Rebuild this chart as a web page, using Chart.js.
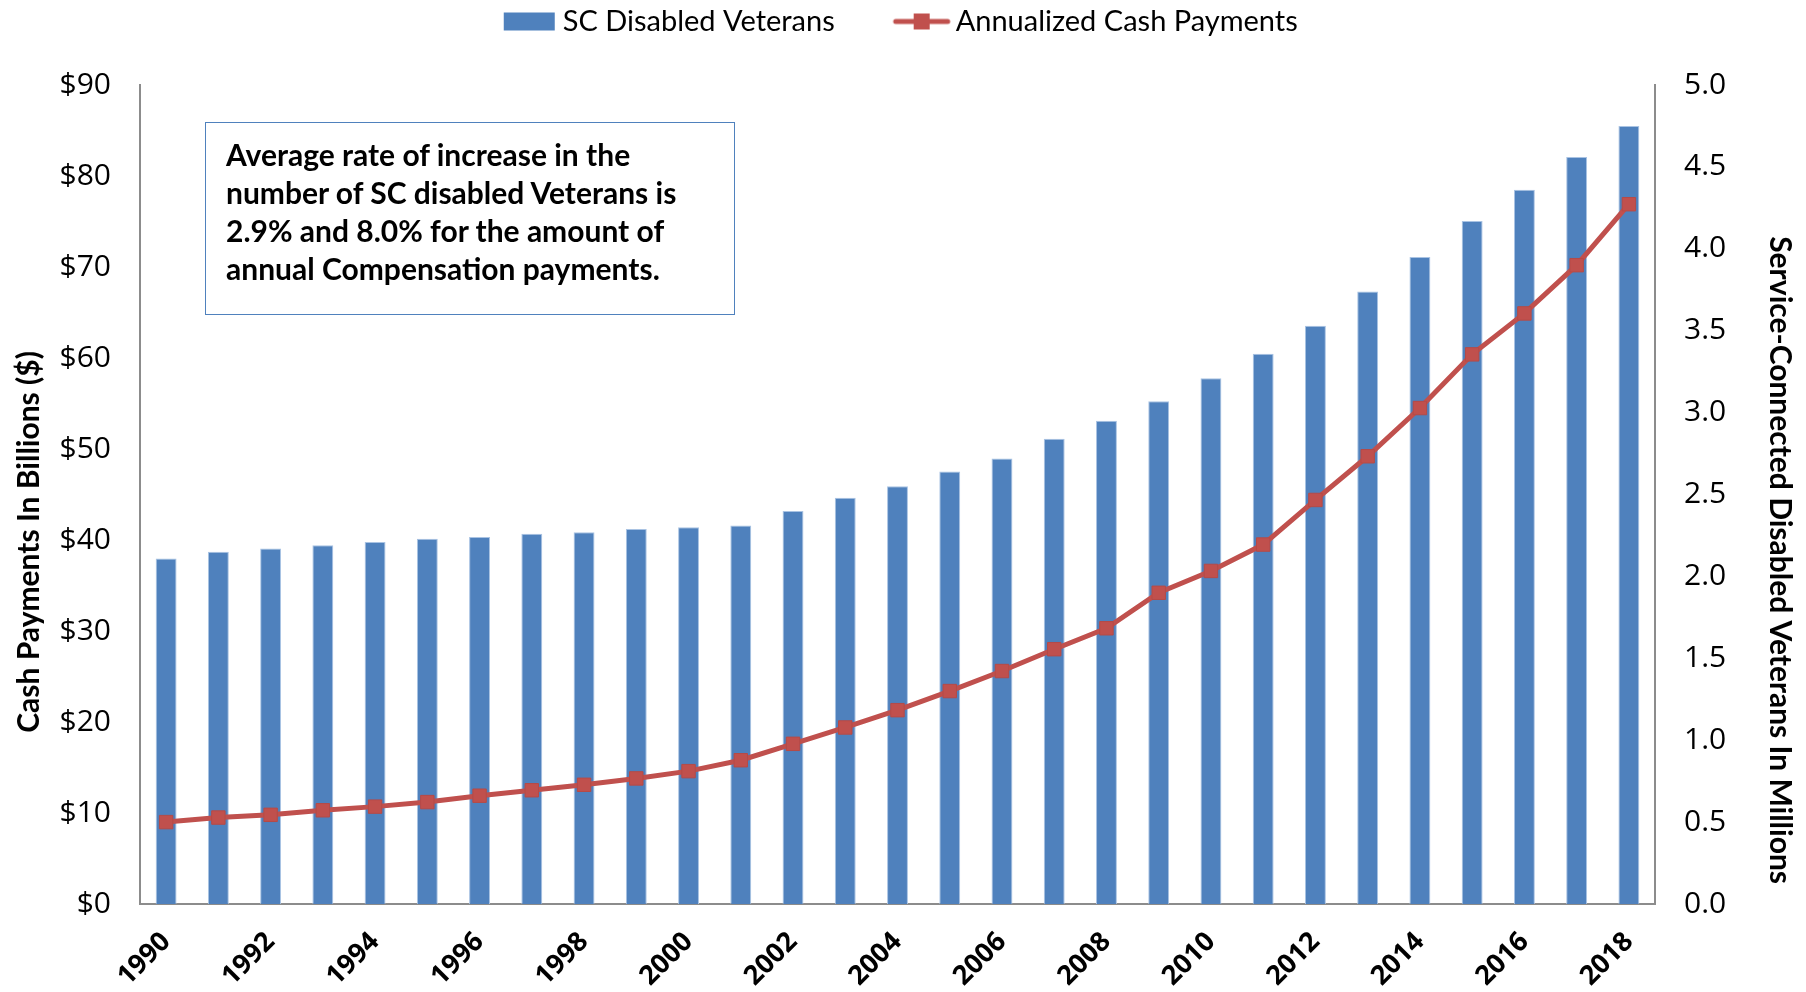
<!DOCTYPE html>
<html>
<head>
<meta charset="utf-8">
<script src="https://cdn.jsdelivr.net/npm/chart.js@4/dist/chart.umd.min.js"></script>
<style>
  html, body { margin: 0; padding: 0; background: #fff; }
  #wrap { position: relative; width: 1806px; height: 992px; }
  #note {
    position: absolute; left: 205px; top: 122px; width: 530px; height: 193px;
    border: 1.5px solid #4F81BD; box-sizing: border-box;
    font: bold 30px Lato, "Open Sans", sans-serif; line-height: 38px; color: #000;
    padding: 12px 0 0 20px; white-space: nowrap;
  }
</style>
</head>
<body>
<div id="wrap">
  <canvas id="chart" width="1806" height="992"></canvas>
  <div id="note">Average rate of increase in the<br>number of SC disabled Veterans is<br>2.9% and 8.0% for the amount of<br>annual Compensation payments.</div>
</div>
<script>
const years = [1990, 1991, 1992, 1993, 1994, 1995, 1996, 1997, 1998, 1999,
  2000, 2001, 2002, 2003, 2004, 2005, 2006, 2007, 2008, 2009,
  2010, 2011, 2012, 2013, 2014, 2015, 2016, 2017, 2018];

// millions of SC disabled veterans (right axis)
const veterans = [2.11, 2.15, 2.17, 2.19, 2.21, 2.23, 2.24, 2.26, 2.27, 2.29,
  2.30, 2.31, 2.40, 2.48, 2.55, 2.64, 2.72, 2.84, 2.95, 3.07,
  3.21, 3.36, 3.53, 3.74, 3.95, 4.17, 4.36, 4.56, 4.75];

// billions of dollars (left axis)
const payments = [9.0, 9.5, 9.8, 10.3, 10.7, 11.2, 11.9, 12.5, 13.1, 13.8,
  14.6, 15.8, 17.6, 19.4, 21.3, 23.4, 25.6, 28.0, 30.3, 34.2,
  36.6, 39.5, 44.4, 49.2, 54.5, 60.4, 64.9, 70.2, 76.9];

const blue = "#4F81BD";
const red = "#C0504D";
const grey = "#8c8c8c";

const iconBox = 40; // legend pointStyleWidth

// legend pictures, drawn flush right so they sit close to the text
function legendIcon(kind) {
  const c = document.createElement("canvas");
  c.width = iconBox + 21;
  c.height = 22;
  const g = c.getContext("2d");
  const w = c.width;
  if (kind === "bar") {
    g.fillStyle = blue;
    g.fillRect(w - 55, 2, 51, 18);
  } else {
    g.strokeStyle = red;
    g.lineWidth = 5;
    g.lineCap = "round";
    g.beginPath();
    g.moveTo(w - 56, 11);
    g.lineTo(w - 4, 11);
    g.stroke();
    g.fillStyle = red;
    g.fillRect(w - 38, 3, 16, 16);
  }
  return c;
}

const icons = [legendIcon("bar"), legendIcon("line")];
const legendTail = ["        ", ""]; // gap after the first legend entry

// the axis titles sit a bit below the middle in the original
const leftTitle = "Cash Payments In Billions ($)" + " ".repeat(13);
const rightTitle = " ".repeat(18) + "Service-Connected Disabled Veterans In Millions";

// extra room between legend and plot
const legendGap = {
  id: "legendGap",
  beforeLayout(chart) {
    const lg = chart.legend;
    if (!lg || lg._gapPatched) return;
    const fit = lg.fit;
    lg.fit = function () {
      fit.call(this);
      this.height += 39;
    };
    lg._gapPatched = true;
  },
};

new Chart(document.getElementById("chart"), {
  plugins: [legendGap],
  data: {
    labels: years,
    datasets: [
      {
        type: "bar",
        label: "SC Disabled Veterans",
        data: veterans,
        yAxisID: "y1",
        backgroundColor: blue,
        borderColor: "#a9c3e3",
        borderWidth: { left: 1, right: 1, top: 1, bottom: 0 },
        categoryPercentage: 1,
        barPercentage: 0.4,
        order: 2,
      },
      {
        type: "line",
        label: "Annualized Cash Payments",
        data: payments,
        yAxisID: "y",
        borderColor: red,
        backgroundColor: red,
        borderWidth: 5,
        pointStyle: "rect",
        pointRadius: 9.5,
        pointHoverRadius: 9.5,
        pointBorderWidth: 1,
        pointBorderColor: "#b54a47",
        tension: 0,
        order: 1,
      },
    ],
  },
  options: {
    responsive: false,
    animation: false,
    layout: { padding: { left: 8, right: 8, top: 0, bottom: 2 } },
    plugins: {
      tooltip: { enabled: false },
      legend: {
        position: "top",
        labels: {
          usePointStyle: true,
          pointStyleWidth: iconBox,
          padding: 7,
          color: "#000",
          font: { family: "Lato", size: 29 },
          generateLabels: (chart) =>
            chart.data.datasets.map((ds, i) => ({
              text: ds.label + legendTail[i],
              pointStyle: icons[i],
              datasetIndex: i,
              fontColor: "#000",
              lineWidth: 0,
            })),
        },
      },
    },
    scales: {
      x: {
        offset: true,
        afterFit: (s) => { s.height = 86; },
        grid: { display: false, drawTicks: false },
        border: { display: true, color: grey, width: 2 },
        ticks: {
          autoSkip: false,
          minRotation: 45,
          maxRotation: 45,
          color: "#000",
          padding: 22,
          font: { family: "Open Sans", size: 27, weight: "bold" },
          callback: function (v, i) {
            return i % 2 === 0 ? this.getLabelForValue(v) : "";
          },
        },
      },
      y: {
        position: "left",
        min: 0,
        max: 90,
        afterFit: (s) => { s.width = 132; },
        grid: { display: false, drawTicks: false },
        border: { display: true, color: grey, width: 2 },
        ticks: {
          stepSize: 10,
          color: "#000",
          padding: 29,
          font: { family: "Open Sans", size: 30 },
          callback: (v) => "$" + v,
        },
        title: {
          display: true,
          text: leftTitle,
          color: "#000",
          font: { family: "Lato", size: 30, weight: "bold" },
          padding: { top: 3, bottom: 0 },
        },
      },
      y1: {
        position: "right",
        min: 0,
        max: 5,
        afterFit: (s) => { s.width = 143; },
        grid: { display: false, drawTicks: false },
        border: { display: true, color: grey, width: 2 },
        ticks: {
          stepSize: 0.5,
          color: "#000",
          padding: 29,
          font: { family: "Open Sans", size: 30 },
          callback: (v) => v.toFixed(1),
        },
        title: {
          display: true,
          text: rightTitle,
          color: "#000",
          font: { family: "Lato", size: 30, weight: "bold" },
          padding: { top: 0, bottom: 0 },
        },
      },
    },
  },
});
</script>
</body>
</html>
